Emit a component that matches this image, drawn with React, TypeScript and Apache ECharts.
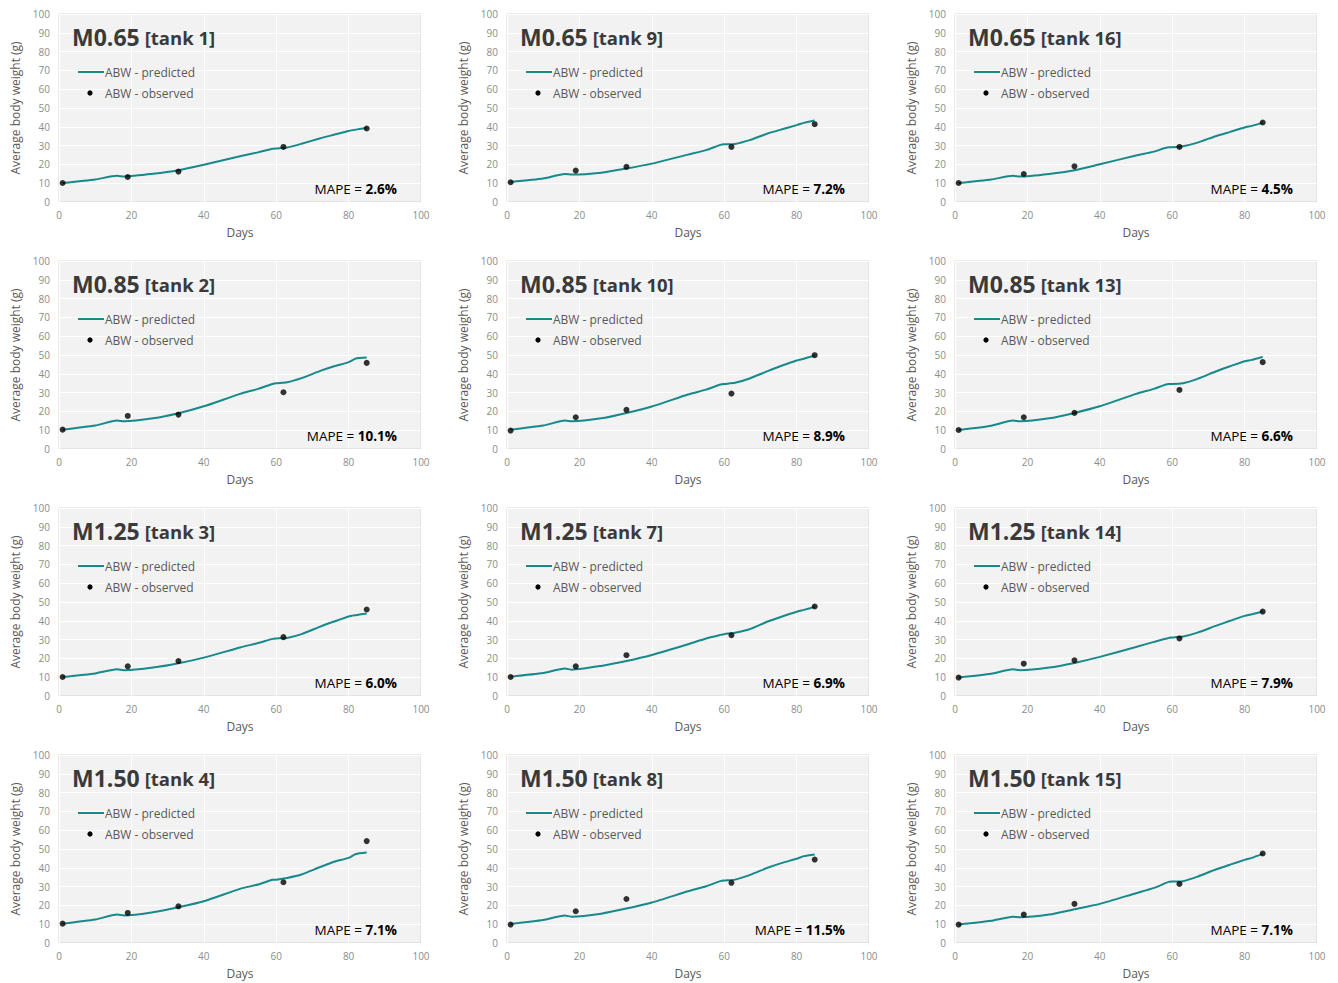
import React, { useEffect, useRef } from "react";
import * as echarts from "echarts";

const treatments = ["M0.65", "M0.65", "M0.65", "M0.85", "M0.85", "M0.85", "M1.25", "M1.25", "M1.25", "M1.50", "M1.50", "M1.50"];
const tanks = ["[tank 1]", "[tank 9]", "[tank 16]", "[tank 2]", "[tank 10]", "[tank 13]", "[tank 3]", "[tank 7]", "[tank 14]", "[tank 4]", "[tank 8]", "[tank 15]"];
const mapes = ["2.6%", "7.2%", "4.5%", "10.1%", "8.9%", "6.6%", "6.0%", "6.9%", "7.9%", "7.1%", "11.5%", "7.1%"];

const xTicks = [0, 20, 40, 60, 80, 100];
const yTicks = [0, 10, 20, 30, 40, 50, 60, 70, 80, 90, 100];

const predictedDays = [1, 10, 16, 18, 26, 33, 40, 50, 55, 59, 60, 63, 67, 72, 76, 80, 82, 85];
const pred1 = [10.1, 12.0, 13.9, 13.6, 15.0, 16.9, 19.8, 24.3, 26.4, 28.3, 28.5, 29.0, 31.0, 33.8, 35.8, 37.8, 38.5, 39.4];
const pred9 = [10.7, 12.5, 14.9, 14.6, 15.6, 17.8, 20.4, 25.2, 27.6, 30.4, 30.7, 30.9, 32.9, 36.4, 38.7, 40.9, 42.1, 43.3];
const pred16 = [10.1, 12.0, 13.9, 13.5, 14.9, 16.9, 20.1, 24.7, 26.8, 29.1, 29.1, 29.7, 31.6, 35.0, 37.3, 39.6, 40.5, 42.1];
const pred2 = [10.3, 12.5, 15.1, 14.7, 16.3, 19.0, 22.7, 29.3, 32.0, 34.6, 35.0, 35.5, 37.7, 41.4, 44.0, 46.2, 48.1, 48.7];
const pred10 = [10.3, 12.5, 15.1, 14.7, 16.3, 19.2, 22.6, 29.0, 31.6, 34.3, 34.6, 35.2, 37.5, 41.4, 44.4, 47.1, 48.0, 49.7];
const pred13 = [10.1, 12.4, 15.1, 14.7, 16.3, 19.2, 22.7, 29.3, 32.0, 34.6, 34.6, 35.0, 37.3, 41.2, 44.0, 46.7, 47.4, 49.0];
const pred3 = [10.1, 12.0, 14.2, 13.7, 15.1, 17.4, 20.4, 25.8, 28.2, 30.4, 30.6, 30.9, 32.9, 36.8, 39.6, 42.3, 43.0, 43.9];
const pred7 = [10.3, 12.2, 14.6, 14.0, 16.0, 18.6, 21.8, 27.5, 30.6, 32.5, 32.9, 33.7, 35.5, 39.6, 42.3, 44.8, 45.8, 47.4];
const pred14 = [9.8, 11.8, 14.2, 13.7, 15.1, 17.6, 20.8, 26.1, 28.8, 30.9, 31.1, 31.6, 33.7, 37.3, 40.0, 42.6, 43.5, 44.9];
const pred4 = [10.3, 12.5, 15.1, 14.6, 16.3, 19.0, 22.2, 28.8, 31.1, 33.6, 33.7, 34.6, 36.4, 40.3, 43.2, 45.3, 47.3, 48.1];
const pred8 = [10.1, 12.2, 14.6, 14.0, 15.6, 18.3, 21.5, 27.5, 30.2, 32.9, 33.2, 33.7, 36.1, 40.0, 42.6, 44.8, 46.2, 47.1];
const pred15 = [9.8, 11.8, 14.0, 13.7, 15.1, 17.9, 20.8, 26.5, 29.3, 32.5, 32.7, 32.9, 35.3, 39.1, 41.7, 44.2, 45.3, 47.4];

const observedDays = [1, 19, 33, 62, 85];
const obs1 = [10.1, 13.3, 16.2, 29.3, 39.1];
const obs9 = [10.5, 16.7, 18.7, 29.3, 41.4];
const obs16 = [10.1, 14.9, 19.0, 29.3, 42.3];
const obs2 = [10.3, 17.6, 18.3, 30.2, 45.8];
const obs10 = [9.8, 16.9, 20.8, 29.5, 49.9];
const obs13 = [10.1, 16.9, 19.2, 31.4, 46.2];
const obs3 = [10.1, 15.8, 18.6, 31.3, 46.0];
const obs7 = [10.1, 15.8, 21.7, 32.3, 47.6];
const obs14 = [9.8, 17.2, 19.0, 30.6, 44.9];
const obs4 = [10.3, 16.0, 19.5, 32.3, 54.2];
const obs8 = [9.8, 16.9, 23.4, 32.0, 44.4];
const obs15 = [9.8, 15.1, 20.8, 31.4, 47.6];

const predicted = [pred1, pred9, pred16, pred2, pred10, pred13, pred3, pred7, pred14, pred4, pred8, pred15];
const observed = [obs1, obs9, obs16, obs2, obs10, obs13, obs3, obs7, obs14, obs4, obs8, obs15];

const FONT = "'Open Sans', 'Noto Sans', sans-serif";
const TEAL = "#17898b";

export default function App() {
  const ref = useRef<HTMLDivElement>(null);
  useEffect(() => {
    if (!ref.current) return;
    const chart = echarts.init(ref.current, null, { renderer: "svg" });
    const grids: any[] = [];
    const xAxes: any[] = [];
    const yAxes: any[] = [];
    const series: any[] = [];
    const titles: any[] = [];
    const graphics: any[] = [];
    for (let i = 0; i < 12; i++) {
      const row = Math.floor(i / 3);
      const col = i % 3;
      const gx = 59 + col * 448;
      const gy = 14 + row * 247;
      const gw = 362;
      const gh = 188;
      grids.push({
        left: gx, top: gy, width: gw, height: gh,
        show: true, backgroundColor: "#f2f2f2", borderColor: "#d4d4d4", borderWidth: 1,
      });
      xAxes.push({
        type: "value", gridIndex: i, min: xTicks[0], max: xTicks[xTicks.length - 1], interval: 20,
        name: "Days", nameLocation: "middle", nameGap: 24,
        nameTextStyle: { fontFamily: FONT, fontSize: 12, color: "#595959" },
        axisLine: { show: false }, axisTick: { show: false },
        axisLabel: { fontFamily: FONT, fontSize: 10, color: "#8c8c8c", margin: 8 },
        splitLine: { show: true, lineStyle: { color: "#ffffff", width: 1 } },
      });
      yAxes.push({
        type: "value", gridIndex: i, min: yTicks[0], max: yTicks[yTicks.length - 1], interval: 10,
        name: "Average body weight (g)", nameLocation: "middle", nameGap: 38,
        nameTextStyle: { fontFamily: FONT, fontSize: 12, color: "#595959" },
        axisLine: { show: false }, axisTick: { show: false },
        axisLabel: { fontFamily: FONT, fontSize: 10, color: "#8c8c8c", margin: 9 },
        splitLine: { show: true, lineStyle: { color: "#ffffff", width: 1 } },
      });
      series.push({
        type: "line", name: "ABW - predicted", xAxisIndex: i, yAxisIndex: i,
        data: predictedDays.map((d, k) => [d, predicted[i][k]]),
        showSymbol: false, smooth: 0.2,
        lineStyle: { color: TEAL, width: 2 }, itemStyle: { color: TEAL },
      });
      series.push({
        type: "scatter", name: "ABW - observed", xAxisIndex: i, yAxisIndex: i,
        data: observedDays.map((d, k) => [d, observed[i][k]]),
        symbol: "circle", symbolSize: 6, itemStyle: { color: "#000000" }, z: 5,
      });
      titles.push({
        left: gx + 13, top: gy + 11, padding: 0,
        text: `{a|${treatments[i]}} {b|${tanks[i]}}`,
        textStyle: {
          rich: {
            a: { fontFamily: FONT, fontSize: 23, fontWeight: "bold", color: "#3a3a3a", verticalAlign: "bottom" },
            b: { fontFamily: FONT, fontSize: 18.5, fontWeight: "bold", color: "#3a3a3a", verticalAlign: "bottom", padding: [0, 0, 1, 0] },
          },
        },
      });
      graphics.push({
        type: "line", shape: { x1: gx + 19, y1: gy + 58, x2: gx + 45, y2: gy + 58 },
        style: { stroke: TEAL, lineWidth: 2 }, z: 10,
      });
      graphics.push({
        type: "text", x: gx + 46, y: gy + 58,
        style: { text: "ABW - predicted", fontFamily: FONT, fontSize: 12, fill: "#595959", verticalAlign: "middle" }, z: 10,
      });
      graphics.push({
        type: "circle", shape: { cx: gx + 31, cy: gy + 79, r: 2.6 },
        style: { fill: "#000000" }, z: 10,
      });
      graphics.push({
        type: "text", x: gx + 46, y: gy + 79,
        style: { text: "ABW - observed", fontFamily: FONT, fontSize: 12, fill: "#595959", verticalAlign: "middle" }, z: 10,
      });
      graphics.push({
        type: "text", x: gx + 338, y: gy + 175,
        style: {
          text: `{a|MAPE = }{b|${mapes[i]}}`, align: "right", verticalAlign: "middle",
          rich: {
            a: { fontFamily: FONT, fontSize: 13.5, color: "#404040" },
            b: { fontFamily: FONT, fontSize: 13.5, fontWeight: "bold", color: "#404040" },
          },
        }, z: 10,
      });
    }
    chart.setOption({
      animation: false,
      backgroundColor: "#ffffff",
      title: titles,
      grid: grids,
      xAxis: xAxes,
      yAxis: yAxes,
      series,
      graphic: graphics,
    });
    return () => chart.dispose();
  }, []);
  return <div ref={ref} style={{ position: "absolute", left: 0, top: 0, width: 1338, height: 983 }} />;
}
